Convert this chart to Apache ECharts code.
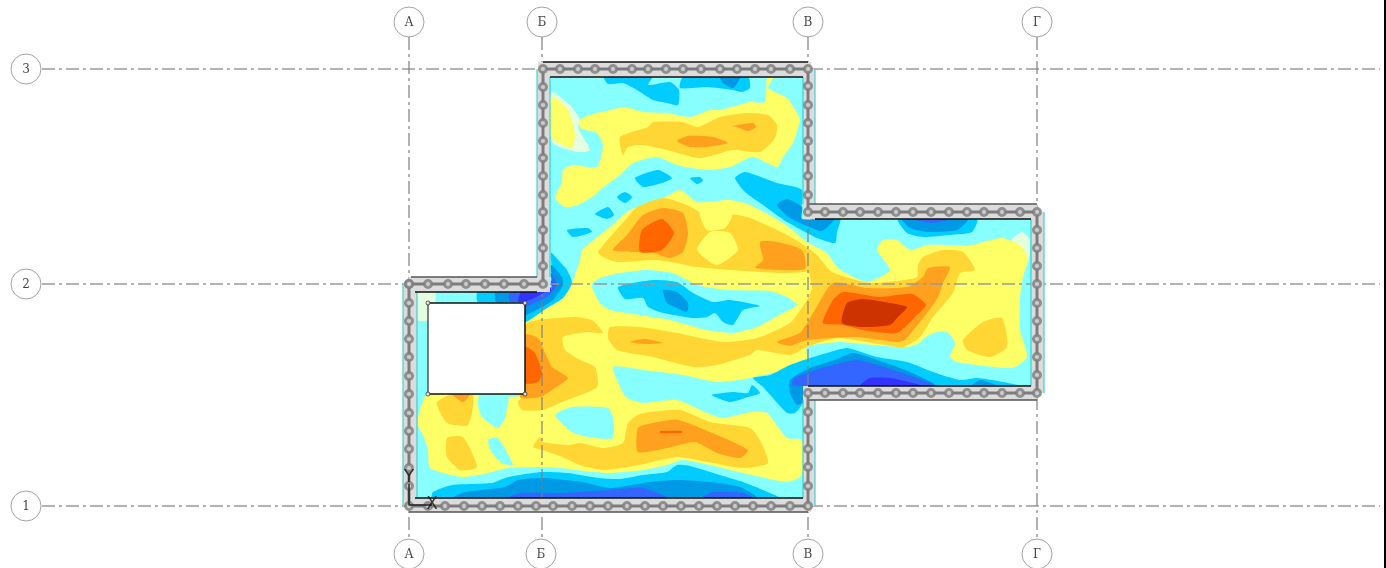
<!DOCTYPE html>
<html>
<head>
<meta charset="utf-8">
<style>html,body{margin:0;padding:0;background:#fff}#plan{width:1386px;height:568px}</style>
<script src="https://cdn.jsdelivr.net/npm/echarts@6/dist/echarts.min.js"></script>
</head>
<body>
<div id="plan"></div>
<script>
// plan axes
var axisX = [409, 542, 808, 1037];
var axisY = [69, 284, 506];
var bubbleTop = [['А', 409, 22], ['Б', 542, 22], ['В', 808, 22], ['Г', 1037, 22]];
var bubbleBottom = [['А', 409, 554], ['Б', 541, 554], ['В', 808, 554], ['Г', 1037, 554]];
var bubbleLeft = [['3', 26, 69], ['2', 26, 284], ['1', 26, 506]];

// plate outline and opening
var plate = [[[550,77],[803,77],[803,219],[1031,219],[1031,386],[803,386],[803,498],[415,498],[415,291],[550,291]]];
var opening = [[[428,303],[525,303],[525,394],[428,394]]];

// isoarea polygons, lowest level first
var paleZones = [
  [[551,92],[570,105],[580,120],[578,128],[590,150],[577,152],[552,142]],
  [[417,292],[435,292],[435,303],[428,303],[428,320],[417,320]],
  [[1012,240],[1022,232],[1030,240],[1028,262],[1020,262]]
];
var yellowZones = [
  [[552,97],[567,108],[575,133],[572,148],[552,138]],
  [[580,120],[590,115],[610,110],[625,107],[643,112],[667,113],[690,117],[710,110],[720,110],[750,102],[765,102],[767,78],[773,78],[768,88],[787,98],[797,113],[800,120],[793,143],[783,157],[777,167],[753,157],[730,167],[707,170],[677,165],[657,157],[633,163],[620,175],[600,190],[595,195],[578,205],[565,207],[555,198],[562,182],[563,170],[573,165],[597,167],[603,145],[597,133],[580,128]],
  [[525,394],[525,322],[547,308],[563,298],[572,283],[580,260],[582,250],[610,227],[630,210],[660,200],[680,190],[697,202],[730,200],[750,205],[783,223],[807,242],[827,253],[838,268],[867,282],[890,270],[877,250],[883,240],[897,240],[910,250],[927,245],[970,245],[1002,238],[1020,245],[1028,258],[1023,277],[1020,297],[1020,330],[1027,357],[1012,368],[957,362],[950,357],[955,343],[947,332],[933,333],[922,340],[920,343],[907,347],[873,345],[840,342],[807,347],[807,363],[750,378],[717,382],[683,375],[643,370],[613,367],[623,393],[627,398],[643,403],[677,400],[707,413],[723,418],[750,412],[767,413],[787,438],[802,440],[802,475],[787,482],[743,473],[710,465],[682,460],[667,465],[643,470],[610,473],[593,472],[560,468],[542,467],[508,468],[488,473],[462,477],[430,468],[428,450],[423,435],[417,423],[428,394]]
];
var cyanHoles = [
  [[592,284],[600,278],[620,273],[647,270],[673,273],[697,285],[727,290],[770,291],[787,297],[797,305],[783,313],[757,327],[733,333],[707,330],[670,320],[640,315],[610,310],[600,303],[593,290]],
  [[555,415],[572,407],[608,408],[613,418],[613,438],[588,437],[572,432]],
  [[478,405],[480,394],[508,394],[505,418],[498,428],[482,417]],
  [[488,440],[498,438],[513,465],[502,463],[492,453]]
];
var blue1 = [
  [[604,77],[652,77],[648,85],[670,82],[679,90],[678,105],[667,103],[653,100],[637,90],[623,83],[608,84]],
  [[683,77],[748,77],[750,88],[742,92],[733,90],[707,87],[680,88]],
  [[635,178],[658,170],[672,178],[662,183],[643,187]],
  [[690,178],[700,177],[703,181],[697,184]],
  [[735,178],[745,172],[777,183],[802,190],[802,219],[840,219],[837,232],[835,243],[817,238],[787,222],[763,205],[745,192]],
  [[567,230],[588,228],[592,232],[573,237]],
  [[595,214],[608,207],[614,215],[607,219]],
  [[617,197],[625,192],[632,197],[625,203]],
  [[551,253],[560,262],[567,270],[572,283],[563,298],[547,308],[525,322],[525,302],[478,302],[478,291],[551,291]],
  [[618,287],[653,280],[677,282],[693,293],[713,302],[730,300],[760,306],[743,310],[733,325],[723,322],[715,313],[707,317],[693,318],[663,313],[648,307],[643,298],[625,299]],
  [[712,395],[733,392],[748,393],[752,385],[760,393],[748,397],[730,402]],
  [[753,378],[770,375],[790,365],[810,358],[827,353],[847,348],[877,357],[907,362],[933,372],[960,380],[977,378],[1003,382],[1020,386],[815,386],[803,395],[803,403],[795,413],[787,413],[763,387]],
  [[898,219],[977,219],[972,232],[950,235],[923,237],[907,233]],
  [[432,498],[433,492],[452,485],[492,483],[508,477],[542,472],[568,473],[598,478],[620,479],[643,475],[667,472],[677,465],[690,466],[720,475],[743,482],[770,493],[780,498]]
];
var blue2 = [
  [[720,77],[740,77],[733,88],[723,83]],
  [[777,205],[787,199],[802,207],[802,219],[834,219],[822,231],[805,225],[790,218]],
  [[551,265],[562,277],[563,285],[553,300],[542,307],[525,315],[525,302],[496,302],[496,291],[551,291]],
  [[663,290],[677,292],[688,303],[687,312],[677,308],[667,303]],
  [[790,380],[810,368],[835,360],[853,353],[883,362],[910,372],[933,383],[937,386],[970,386],[980,380],[997,386],[815,386],[803,395],[803,402],[797,405],[790,393]],
  [[902,219],[968,219],[957,230],[928,232],[910,228]],
  [[453,498],[465,492],[505,487],[518,480],[542,478],[582,482],[610,488],[650,482],[677,480],[710,482],[740,487],[757,498]]
];
var blue3 = [
  [[551,273],[557,285],[547,297],[530,305],[525,307],[525,302],[510,302],[510,291],[551,291]],
  [[792,385],[795,378],[815,370],[833,365],[857,360],[887,368],[917,378],[935,386],[806,386]],
  [[912,219],[950,219],[933,223]],
  [[507,498],[522,493],[562,493],[610,490],[643,488],[667,498]],
  [[703,498],[713,492],[743,493],[753,498]]
];
var blue4 = [
  [[551,280],[553,285],[545,292],[530,300],[518,302],[522,291],[551,291]],
  [[860,386],[870,378],[890,378],[913,383],[923,386]]
];
var orange1 = [
  [[620,137],[648,127],[653,122],[682,122],[698,127],[720,117],[747,113],[768,115],[777,125],[775,138],[760,152],[733,150],[700,158],[667,150],[643,145],[628,147],[623,155]],
  [[598,252],[627,218],[637,207],[663,198],[687,205],[700,213],[707,230],[725,228],[732,215],[750,218],[783,233],[807,248],[810,270],[783,273],[730,270],[697,267],[657,260],[617,262],[603,257]],
  [[525,325],[572,317],[592,320],[603,333],[587,332],[563,337],[565,350],[580,360],[595,367],[597,387],[562,402],[542,410],[522,410],[518,402],[525,394]],
  [[757,338],[790,323],[807,300],[812,288],[808,268],[807,248],[817,255],[832,272],[870,283],[905,280],[917,277],[918,265],[923,257],[943,250],[963,252],[975,270],[960,273],[953,293],[933,317],[920,337],[903,347],[873,343],[837,338],[807,347],[790,355],[757,350],[750,355],[717,365],[693,367],[653,357],[617,350],[608,338],[610,327],[640,327],[677,333],[723,342]],
  [[963,340],[983,322],[1002,318],[1007,347],[990,357],[967,350]],
  [[437,402],[452,394],[473,395],[468,425],[447,423],[438,408]],
  [[447,438],[463,437],[477,467],[460,470],[447,457]],
  [[533,447],[540,437],[543,442],[568,445],[580,443],[603,448],[623,443],[628,423],[640,414],[680,410],[710,422],[750,428],[760,440],[768,463],[743,468],[713,463],[680,457],[660,460],[640,465],[603,470],[580,465],[560,456],[542,450]]
];
var yellowPockets = [
  [[697,250],[710,232],[730,233],[738,250],[717,265]],
  [[700,213],[732,215],[725,228],[707,230]]
];
var orange2 = [
  [[677,141],[688,136],[713,137],[728,143],[707,147],[690,147]],
  [[733,126],[753,123],[756,127],[748,131],[737,127]],
  [[613,250],[627,235],[643,215],[663,208],[683,213],[688,233],[683,252],[670,258],[653,253],[633,252]],
  [[760,242],[777,242],[802,250],[805,269],[755,268],[763,260]],
  [[777,342],[800,333],[807,323],[815,310],[833,283],[867,288],[907,287],[923,277],[928,268],[950,267],[943,283],[938,297],[927,313],[905,340],[897,342],[857,337],[807,340],[790,346]],
  [[638,428],[653,423],[678,420],[710,432],[748,450],[740,458],[717,453],[695,442],[667,448],[638,452]],
  [[525,335],[538,338],[545,353],[552,367],[568,378],[552,390],[540,397],[520,397]],
  [[452,394],[470,394],[463,402]],
  [[630,342],[645,339],[663,343],[645,344]]
];
var orange3 = [
  [[642,230],[662,219],[674,233],[662,250],[640,252]],
  [[823,323],[833,300],[843,292],[880,297],[912,294],[926,305],[917,315],[897,333],[863,330],[843,325]],
  [[525,347],[535,353],[542,373],[538,382],[525,383]],
  [[660,431],[682,431],[682,433],[660,433]]
];
var orange4 = [
  [[842,323],[847,303],[863,299],[890,303],[907,307],[898,317],[890,325],[863,327]]
];

// shear walls
var wallBands = [
  [[538,62],[811,62],[811,77],[538,77]],
  [[537,69],[550,69],[550,292],[537,292]],
  [[803,69],[815,69],[815,219],[803,219]],
  [[808,204],[1037,204],[1037,219],[808,219]],
  [[1031,212],[1044,212],[1044,393],[1031,393]],
  [[803,386],[1037,386],[1037,400],[803,400]],
  [[803,386],[815,386],[815,506],[803,506]],
  [[409,498],[811,498],[811,512],[409,512]],
  [[403,284],[417,284],[417,506],[403,506]],
  [[409,277],[543,277],[543,292],[409,292]]
];
var wallPath = [[542,69],[808,69],[808,212],[1037,212],[1037,393],[808,393],[808,506],[409,506],[409,284],[543,284],[543,69]];
var blackEdges = [
  [[543,62],[808,62]], [[550,77],[803,77]], [[815,219],[1031,219]], [[808,386],[1031,386]],
  [[415,498],[803,498]], [[415,292],[537,292]], [[428,303],[525,303]], [[428,394],[525,394]], [[525,303],[525,394]]
];
var greyEdges = [
  [[808,204],[1037,204]], [[808,400],[1037,400]], [[409,512],[808,512]], [[411,277],[537,277]], [[428,303],[428,394]]
];
var tealEdges = [
  [[537,69],[537,277]], [[550,77],[550,277]], [[803,77],[803,204]], [[815,69],[815,204]],
  [[1031,219],[1031,386]], [[1044,212],[1044,393]], [[803,400],[803,498]], [[815,400],[815,506]],
  [[403,284],[403,506]], [[417,292],[417,498]]
];

// stud rows along the walls
var studsTop = [543,560,578,595,613,632,648,666,683,701,720,737,755,771,790,808];
var studsLeft = [87,105,123,141,158,176,195,212,230,248,266,284];
var studsRoof = [409,428,448,466,485,504,524];
var studsWest = [284,303,321,339,357,376,394,413,431,449,468,486,506];
var studsSouth = [428,445,464,482,500,518,536,553,572,590,608,627,645,663,681,699,717,735,753,771,790,808];
var studsEastLow = [393,412,430,449,467,486];
var studsEastHigh = [86,105,123,141,158,176,195,212];
var studsWing = [825,843,860,878,896,913,931,949,967,984,1002,1020,1037];
var studsWingEnd = [230,248,266,284,303,321,339,357,375];
var openingNodes = [[428,303],[525,303],[428,394],[525,394]];
var localAxes = [[[409,484],[409,505],[432,505]]];

var studs = []
    .concat(studsTop.map(function (x) { return [x, 69]; }))
    .concat(studsLeft.map(function (y) { return [543, y]; }))
    .concat(studsRoof.map(function (x) { return [x, 284]; }))
    .concat(studsWest.map(function (y) { return [409, y]; }))
    .concat(studsSouth.map(function (x) { return [x, 506]; }))
    .concat(studsEastLow.map(function (y) { return [808, y]; }))
    .concat(studsEastHigh.map(function (y) { return [808, y]; }))
    .concat(studsWing.map(function (x) { return [x, 212]; }))
    .concat(studsWing.map(function (x) { return [x, 393]; }))
    .concat(studsWingEnd.map(function (y) { return [1037, y]; }));

function fillSeries(polys, color, z, smooth) {
    return {
        type: 'custom',
        coordinateSystem: 'cartesian2d',
        silent: true,
        clip: false,
        z: z,
        data: polys.map(function (p) { return p[0]; }),
        renderItem: function (params, api) {
            return {
                type: 'polygon',
                shape: {
                    points: polys[params.dataIndex].map(function (p) { return api.coord(p); }),
                    smooth: smooth || 0
                },
                style: { fill: color }
            };
        }
    };
}

function lineSeries(points, color, width, z, dash) {
    return {
        type: 'line',
        data: points,
        symbol: 'none',
        silent: true,
        z: z,
        lineStyle: { color: color, width: width, type: dash || 'solid', cap: 'butt' }
    };
}

function bubbleSeries(items) {
    return {
        type: 'scatter',
        data: items.map(function (b) { return { name: b[0], value: [b[1], b[2]] }; }),
        symbol: 'circle',
        symbolSize: 30,
        silent: true,
        z: 30,
        itemStyle: { color: '#fff', borderColor: '#8c8c8c', borderWidth: 1 },
        label: {
            show: true,
            position: 'inside',
            formatter: '{b}',
            color: '#111',
            fontFamily: '"DejaVu Serif", "Liberation Mono", monospace',
            fontSize: 12,
            offset: [0, 1]
        }
    };
}

var series = [
    fillSeries(plate, '#88ffff', 2),
    fillSeries(paleZones, '#e4ffe0', 3, 0.2),
    fillSeries(yellowZones, '#ffff66', 4, 0.2),
    fillSeries(cyanHoles, '#88ffff', 5, 0.2),
    fillSeries(blue1, '#00ccff', 6, 0.2),
    fillSeries(blue2, '#0099e6', 7, 0.2),
    fillSeries(blue3, '#3366ff', 8, 0.2),
    fillSeries(blue4, '#3333ff', 9, 0.2),
    fillSeries(orange1, '#ffd633', 10, 0.2),
    fillSeries(yellowPockets, '#ffff66', 11, 0.2),
    fillSeries(orange2, '#ffa01e', 12, 0.2),
    fillSeries(orange3, '#ff6600', 13, 0.2),
    fillSeries(orange4, '#cc3300', 14, 0.2),
    fillSeries(wallBands, '#dcdcdc', 16),
    fillSeries(opening, '#ffffff', 17)
];

// dash-dot axis lines
axisY.forEach(function (y) {
    series.push(lineSeries([[42, y], [1380, y]], '#999999', 1.5, 15, [13, 4, 3, 4]));
});
axisX.forEach(function (x) {
    series.push(lineSeries([[x, 37], [x, 539]], '#808080', 1.2, 15, [13, 4, 3, 4]));
});
tealEdges.forEach(function (e) { series.push(lineSeries(e, '#20cccc', 1, 18)); });
greyEdges.forEach(function (e) { series.push(lineSeries(e, '#555555', 1.5, 19)); });
blackEdges.forEach(function (e) { series.push(lineSeries(e, '#111111', 1.5, 19)); });
series.push(lineSeries(wallPath, '#7c7c7c', 3, 20));
series.push({
    type: 'scatter',
    data: studs,
    symbol: 'circle',
    symbolSize: 7,
    silent: true,
    z: 21,
    itemStyle: { color: '#e0e0e0', borderColor: '#7c7c7c', borderWidth: 3 }
});
series.push({
    type: 'scatter',
    data: openingNodes,
    symbol: 'circle',
    symbolSize: 4,
    silent: true,
    z: 21,
    itemStyle: { color: '#fff', borderColor: '#333', borderWidth: 1 }
});
series.push(lineSeries(localAxes[0], '#222222', 1.5, 22));
series.push({
    type: 'scatter',
    data: [{ name: 'Y', value: [409, 478] }, { name: 'X', value: [432, 505] }],
    symbolSize: 1,
    silent: true,
    z: 23,
    itemStyle: { color: 'transparent' },
    label: {
        show: true,
        position: 'inside',
        formatter: '{b}',
        color: '#111',
        fontFamily: '"DejaVu Sans", sans-serif',
        fontSize: 17
    }
});
series.push(bubbleSeries(bubbleTop));
series.push(bubbleSeries(bubbleBottom));
series.push(bubbleSeries(bubbleLeft));
series.push(lineSeries([[1385, 0], [1385, 568]], '#000000', 2, 24));

var myChart = echarts.init(document.getElementById('plan'), null, { renderer: 'canvas' });
myChart.setOption({
    animation: false,
    backgroundColor: '#ffffff',
    grid: { left: 0, right: 0, top: 0, bottom: 0 },
    xAxis: { type: 'value', min: 0, max: 1386, show: false },
    yAxis: { type: 'value', min: 0, max: 568, inverse: true, show: false },
    series: series
});
</script>
</body>
</html>
